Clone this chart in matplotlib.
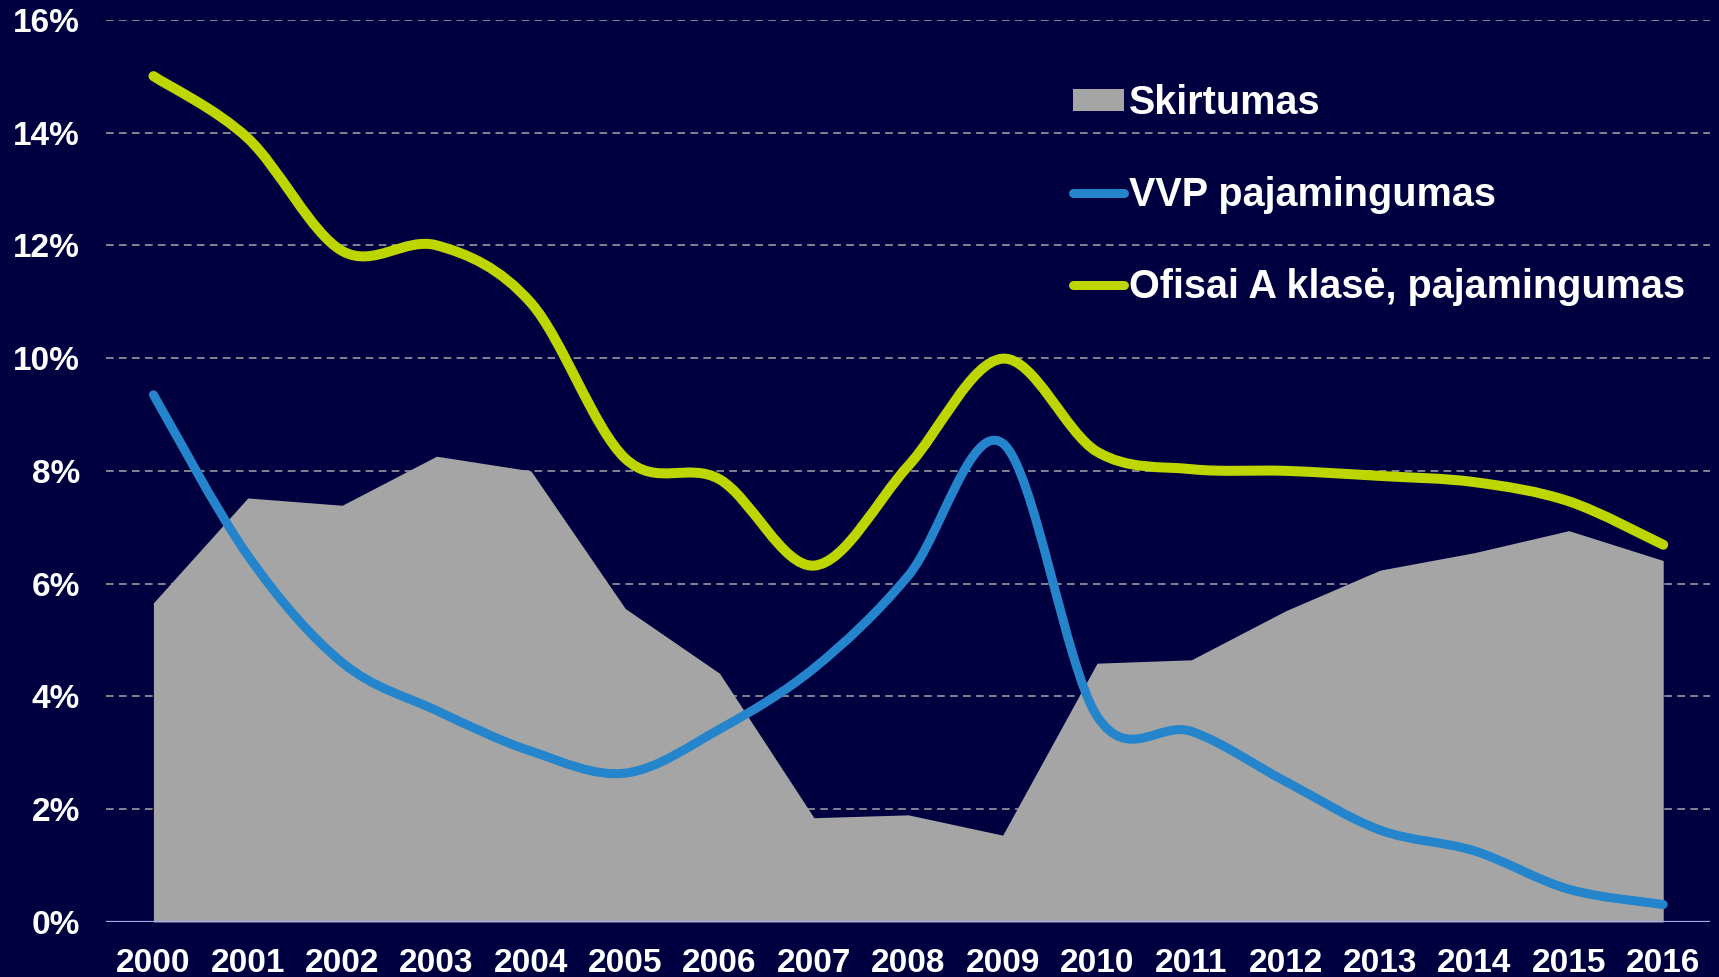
import numpy as np
import matplotlib
matplotlib.use("Agg")
import matplotlib.pyplot as plt
from matplotlib.path import Path
from matplotlib.patches import PathPatch, Patch
from matplotlib.lines import Line2D
from matplotlib.ticker import PercentFormatter

# Data (percent)
years = ["2000", "2001", "2002", "2003", "2004", "2005", "2006", "2007", "2008",
         "2009", "2010", "2011", "2012", "2013", "2014", "2015", "2016"]
skirtumas = [5.66, 7.52, 7.39, 8.26, 8.00, 5.56, 4.41, 1.85, 1.90,
             1.54, 4.59, 4.65, 5.52, 6.24, 6.55, 6.94, 6.41]
vvp = [9.35, 6.50, 4.60, 3.75, 3.03, 2.64, 3.42, 4.50, 6.14,
       8.49, 3.65, 3.38, 2.49, 1.63, 1.26, 0.58, 0.31]
ofisai = [15.0, 13.9, 11.9, 12.0, 10.98, 8.22, 7.85, 6.32, 8.09,
          9.99, 8.34, 8.03, 8.00, 7.91, 7.80, 7.46, 6.69]
y_ticks = [0, 2, 4, 6, 8, 10, 12, 14, 16]
labels = ["Skirtumas", "VVP pajamingumas", "Ofisai A klasė, pajamingumas"]

BG = "#000040"
GRAY = "#A5A5A5"
BLUE = "#2585CC"
GREEN = "#BDD600"
FONT = "Liberation Sans"


def smooth_path(xs, ys):
    # Excel-like smoothed line: cubic Bezier through every point
    pts = np.column_stack([xs, ys]).astype(float)
    n = len(pts)
    verts = [pts[0]]
    codes = [Path.MOVETO]
    for i in range(n - 1):
        p_prev = pts[max(i - 1, 0)]
        p0 = pts[i]
        p1 = pts[i + 1]
        p_next = pts[min(i + 2, n - 1)]
        c1 = p0 + (p1 - p_prev) / 6.0
        c2 = p1 - (p_next - p0) / 6.0
        verts += [c1, c2, p1]
        codes += [Path.CURVE4] * 3
    return Path(verts, codes)


fig = plt.figure(figsize=(17.19, 9.77), dpi=100, facecolor=BG)
ax = fig.add_axes([0.0618, 0.0563, 0.9332, 0.9235])
ax.set_facecolor(BG)

x = np.arange(len(years))

# grid behind the area
for v in y_ticks[1:]:
    ax.axhline(v, color="#A6A6A6", lw=1.1, ls=(0, (5, 3.5)), zorder=1)

ax.fill_between(x, 0, skirtumas, color=GRAY, lw=0, zorder=2)

for series, col, lw in [(vvp, BLUE, 6.5), (ofisai, GREEN, 7.2)]:
    patch = PathPatch(smooth_path(x, series), fill=False, edgecolor=col, lw=lw,
                      capstyle="round", joinstyle="round", zorder=4)
    ax.add_patch(patch)

ax.axhline(0, color="#A9A9F0", lw=1.6, zorder=5)

ax.set_xlim(-0.5, len(years) - 0.5)
ax.set_ylim(0, 16)
ax.set_xticks(x)
ax.set_xticklabels(years)
ax.set_yticks(y_ticks)
ax.yaxis.set_major_formatter(PercentFormatter(xmax=100, decimals=0))
for s in ax.spines.values():
    s.set_visible(False)
ax.tick_params(axis="both", length=0, colors="white", labelsize=24)
ax.tick_params(axis="y", pad=19)
ax.tick_params(axis="x", pad=18.5)
for lab in ax.get_xticklabels() + ax.get_yticklabels():
    lab.set_fontfamily(FONT)
    lab.set_fontweight("bold")

handles = [
    Patch(facecolor=GRAY, edgecolor="none"),
    Line2D([], [], color=BLUE, lw=6.5, solid_capstyle="round"),
    Line2D([], [], color=GREEN, lw=6.5, solid_capstyle="round"),
]
leg = fig.legend(handles, labels, loc="upper left",
                 bbox_to_anchor=(1073 / 1719, 1 - 84 / 977),
                 frameon=False, borderpad=0, borderaxespad=0,
                 handlelength=1.3, handleheight=0.5, handletextpad=0.12,
                 labelspacing=1.36,
                 prop={"family": FONT, "weight": "bold", "size": 28.5})
for t in leg.get_texts():
    t.set_color("white")

fig.savefig("out.png", dpi=100, facecolor=BG)
